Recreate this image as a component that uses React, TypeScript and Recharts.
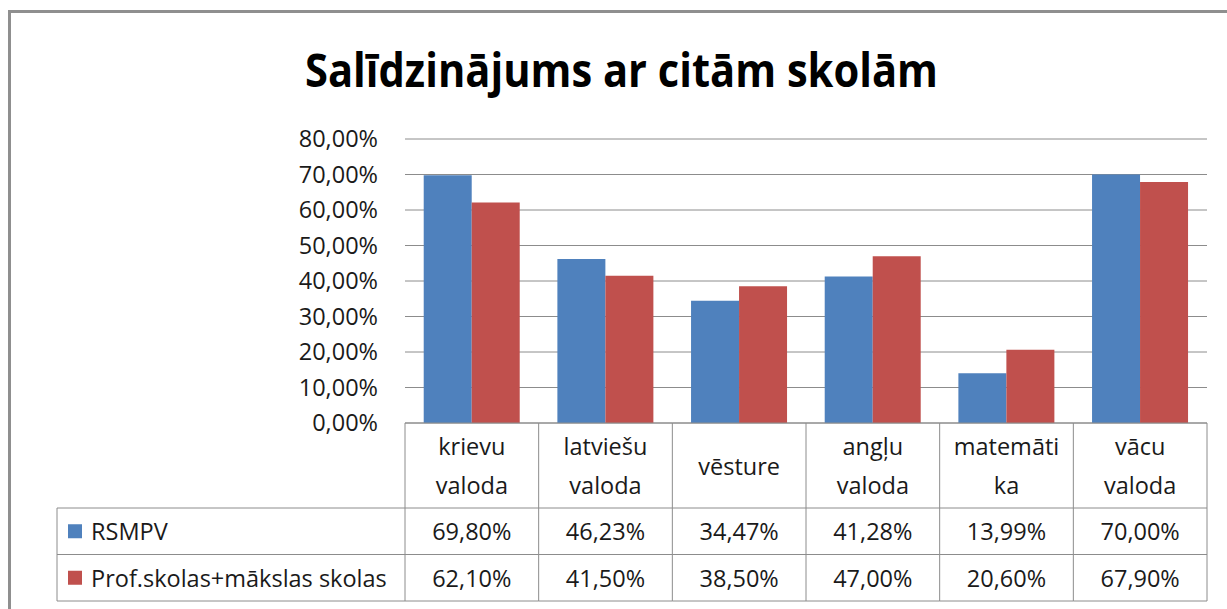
import { Bar, BarChart, CartesianGrid, XAxis, YAxis } from 'recharts';

const categories = ['krievu valoda', 'latviešu valoda', 'vēsture', 'angļu valoda', 'matemātika', 'vācu valoda'];
const seriesNames = ['RSMPV', 'Prof.skolas+mākslas skolas'];
const rsmpv = [0.698, 0.4623, 0.3447, 0.4128, 0.1399, 0.7];
const profSkolas = [0.621, 0.415, 0.385, 0.47, 0.206, 0.679];
const yTicks = [0, 0.1, 0.2, 0.3, 0.4, 0.5, 0.6, 0.7, 0.8];

const BLUE = '#4f81bd';
const RED = '#c0504d';
const LINE = '#8c8c8c';
const FONT = '"Open Sans", sans-serif';
const FONT_SIZE = 23.5;

const W = 1227;
const H = 609;
const PLOT_LEFT = 405;
const PLOT_RIGHT = 1207;
const BAND = (PLOT_RIGHT - PLOT_LEFT) / categories.length;
const TABLE_H = 178;
const HEAD_H = 85;
const ROW_H = (TABLE_H - HEAD_H) / 2;
const LEGEND_LEFT = 57;

const data = categories.map((name, i) => ({ name, rsmpv: rsmpv[i], prof: profSkolas[i] }));

const pct = (v: number) => `${(v * 100).toFixed(2).replace('.', ',')}%`;

// excel wraps the header cells; break long words the same way
function wrap(label: string): string[] {
	const out: string[] = [];
	label.split(' ').forEach((w) => {
		if (w.length > 8) {
			out.push(w.slice(0, 8), w.slice(8));
		} else out.push(w);
	});
	return out;
}

function TableTick(props: any) {
	const { x, y, payload } = props;
	const i: number = payload.index;
	const left = x - BAND / 2;
	const right = x + BAND / 2;
	const lines = wrap(payload.value);
	const rows = [rsmpv[i], profSkolas[i]];
	const txt = { fontFamily: FONT, fontSize: FONT_SIZE, fill: '#1a1a1a' };

	return (
		<g>
			<line x1={left} x2={right} y1={y} y2={y} stroke={LINE} />
			<line x1={left} x2={right} y1={y + HEAD_H} y2={y + HEAD_H} stroke={LINE} />
			<line x1={left} x2={right} y1={y + HEAD_H + ROW_H} y2={y + HEAD_H + ROW_H} stroke={LINE} />
			<line x1={left} x2={right} y1={y + TABLE_H} y2={y + TABLE_H} stroke={LINE} />
			<line x1={left} x2={left} y1={y} y2={y + TABLE_H} stroke={LINE} />
			{i === categories.length - 1 && <line x1={right} x2={right} y1={y} y2={y + TABLE_H} stroke={LINE} />}
			{lines.map((l, k) => (
				<text
					key={k}
					x={x}
					y={lines.length === 1 ? y + HEAD_H / 2 : y + 23 + k * 39}
					textAnchor="middle"
					dominantBaseline="central"
					{...txt}
				>
					{l}
				</text>
			))}
			{rows.map((v, k) => (
				<text
					key={k}
					x={x}
					y={y + HEAD_H + ROW_H * k + ROW_H / 2}
					textAnchor="middle"
					dominantBaseline="central"
					{...txt}
				>
					{pct(v)}
				</text>
			))}
			{i === 0 && (
				<g>
					<line x1={LEGEND_LEFT} x2={left} y1={y + HEAD_H} y2={y + HEAD_H} stroke={LINE} />
					<line x1={LEGEND_LEFT} x2={left} y1={y + HEAD_H + ROW_H} y2={y + HEAD_H + ROW_H} stroke={LINE} />
					<line x1={LEGEND_LEFT} x2={left} y1={y + TABLE_H} y2={y + TABLE_H} stroke={LINE} />
					<line x1={LEGEND_LEFT} x2={LEGEND_LEFT} y1={y + HEAD_H} y2={y + TABLE_H} stroke={LINE} />
					{seriesNames.map((s, k) => {
						const cy = y + HEAD_H + ROW_H * k + ROW_H / 2;
						return (
							<g key={s}>
								<rect x={68} y={cy - 7} width={14} height={14} fill={k === 0 ? BLUE : RED} />
								<text x={91} y={cy} dominantBaseline="central" {...txt}>
									{s}
								</text>
							</g>
						);
					})}
				</g>
			)}
		</g>
	);
}

export default function App() {
	return (
		<div style={{ position: 'absolute', left: 0, top: 0, width: W, height: H, overflow: 'hidden', background: '#fff' }}>
			<div
				style={{
					position: 'absolute',
					left: 8,
					top: 10,
					width: W + 20,
					height: H + 20,
					border: '3px solid #8f8f8f',
				}}
			/>
			<svg width={W} height={120} style={{ position: 'absolute', left: 0, top: 0 }}>
				<text
					x={621.5}
					y={87}
					textAnchor="middle"
					textLength={633}
					lengthAdjust="spacingAndGlyphs"
					fontFamily={FONT}
					fontWeight={700}
					fontSize={46}
					fill="#000"
				>
					Salīdzinājums ar citām skolām
				</text>
			</svg>
			<div style={{ position: 'absolute', left: 0, top: 0 }}>
				<BarChart
					width={W}
					height={H}
					data={data}
					margin={{ top: 139, right: W - PLOT_RIGHT, bottom: 8, left: PLOT_LEFT - 100 }}
					barGap={0}
					barCategoryGap="14%"
				>
					<CartesianGrid stroke={LINE} vertical={false} />
					<XAxis
						dataKey="name"
						axisLine={false}
						tickLine={false}
						tickSize={0}
						tickMargin={0}
						height={TABLE_H}
						interval={0}
						tick={<TableTick />}
					/>
					<YAxis
						width={100}
						domain={[0, 0.8]}
						ticks={yTicks}
						axisLine={false}
						tickLine={false}
						tickSize={0}
						tickMargin={27}
						tickFormatter={pct}
						tick={{ fontFamily: FONT, fontSize: FONT_SIZE, fill: '#1a1a1a' }}
					/>
					<Bar dataKey="rsmpv" name={seriesNames[0]} fill={BLUE} isAnimationActive={false} />
					<Bar dataKey="prof" name={seriesNames[1]} fill={RED} isAnimationActive={false} />
				</BarChart>
			</div>
		</div>
	);
}
